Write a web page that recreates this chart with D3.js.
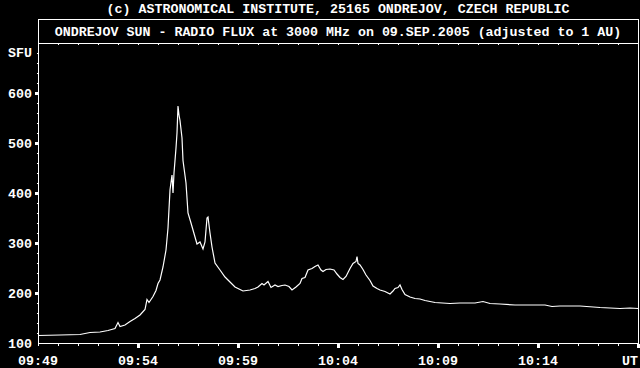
<!DOCTYPE html>
<html>
<head>
<meta charset="utf-8">
<script src="https://cdn.jsdelivr.net/npm/d3@7"></script>
<style>
  body { margin: 0; background: #000; }
  svg { display: block; }
  text { font-family: "Liberation Mono", "DejaVu Sans Mono", monospace; font-weight: bold; font-size: 13.3px; fill: #fff; }
</style>
</head>
<body>
<div id="chart"></div>
<script>
// time (UT) and flux (SFU)
var times = ["09:49:00","09:50:06","09:51:06","09:51:36","09:52:06","09:52:30","09:52:51","09:53:00","09:53:06","09:53:21",
  "09:53:36","09:53:51","09:54:06","09:54:21","09:54:27","09:54:33","09:54:45","09:54:54","09:55:00","09:55:06",
  "09:55:15","09:55:24","09:55:30","09:55:36","09:55:42","09:55:45","09:55:48","09:55:54","09:55:57","09:56:00",
  "09:56:03","09:56:06","09:56:12","09:56:15","09:56:24","09:56:30","09:56:39","09:56:51","09:56:57","09:57:06",
  "09:57:15","09:57:21","09:57:27","09:57:30","09:57:36","09:57:42","09:57:51","09:58:06","09:58:21","09:58:36",
  "09:58:51","09:59:06","09:59:15","09:59:36","09:59:51","10:00:00","10:00:12","10:00:18","10:00:30","10:00:39",
  "10:00:51","10:01:00","10:01:12","10:01:21","10:01:33","10:01:42","10:01:54","10:02:06","10:02:12","10:02:21",
  "10:02:30","10:02:42","10:02:51","10:03:00","10:03:09","10:03:15","10:03:24","10:03:36","10:03:48","10:03:57",
  "10:04:06","10:04:15","10:04:24","10:04:36","10:04:45","10:04:54","10:04:57","10:05:00","10:05:06","10:05:15",
  "10:05:24","10:05:36","10:05:45","10:05:57","10:06:06","10:06:21","10:06:36","10:06:45","10:06:51","10:07:00",
  "10:07:06","10:07:12","10:07:21","10:07:36","10:07:51","10:08:06","10:08:21","10:08:51","10:09:36","10:10:06",
  "10:10:51","10:11:15","10:11:36","10:12:06","10:12:51","10:13:36","10:14:21","10:14:42","10:15:06","10:16:06",
  "10:17:06","10:18:06","10:18:36","10:19:00"];
var flux = [115,116,117,121,122,125,129,141,133,136,
  143,149,156,167,187,181,193,205,219,226,
  252,286,330,406,436,400,440,490,520,574,
  556,545,510,465,420,360,340,312,298,302,
  288,302,350,352,320,292,260,246,232,222,
  212,207,204,206,209,212,219,216,223,211,
  216,213,215,216,213,206,212,219,229,231,
  246,249,253,256,246,243,247,248,246,238,
  231,227,233,249,259,263,273,259,256,247,
  236,225,214,209,206,203,198,204,209,211,
  216,207,197,192,189,188,185,181,179,180,
  180,183,179,178,176,176,176,173,174,174,
  171,169,170,169];

var yTicks = [100, 200, 300, 400, 500, 600];
var xTickLabels = ["09:49", "09:54", "09:59", "10:04", "10:09", "10:14"];

var svgWidth = 640, svgHeight = 368;
var plot = { left: 38, right: 638, top: 43, bottom: 343 };

var parse = d3.timeParse("%H:%M:%S");
var data = times.map(function(t, i) { return { t: parse(t), v: flux[i] }; });

var x = d3.scaleTime()
  .domain([parse("09:49:00"), parse("10:19:00")])
  .range([plot.left, plot.right]);
var y = d3.scaleLinear().domain([100, 700]).range([plot.bottom, plot.top]);

var svg = d3.select("#chart").append("svg")
  .attr("width", svgWidth)
  .attr("height", svgHeight);

svg.append("rect").attr("width", svgWidth).attr("height", svgHeight).attr("fill", "#000");

// headings
svg.append("text")
  .attr("x", 338).attr("y", 13)
  .attr("text-anchor", "middle")
  .text("(c) ASTRONOMICAL INSTITUTE, 25165 ONDREJOV, CZECH REPUBLIC");

svg.append("rect")
  .attr("x", plot.left + 0.5).attr("y", 19.5)
  .attr("width", plot.right - plot.left).attr("height", plot.top - 19)
  .attr("fill", "none").attr("stroke", "#fff");

svg.append("text")
  .attr("x", 338).attr("y", 35.5)
  .attr("text-anchor", "middle")
  .text("ONDREJOV SUN - RADIO FLUX at 3000 MHz on 09.SEP.2005 (adjusted to 1 AU)");

// frame
var frame = svg.append("g").attr("stroke", "#fff").attr("shape-rendering", "crispEdges");
frame.append("line").attr("x1", plot.left + 0.5).attr("x2", plot.left + 0.5).attr("y1", plot.top).attr("y2", plot.bottom + 1);
frame.append("line").attr("x1", plot.right + 0.5).attr("x2", plot.right + 0.5).attr("y1", plot.top).attr("y2", plot.bottom + 1);
frame.append("line").attr("x1", plot.left).attr("x2", plot.right + 1).attr("y1", plot.bottom + 0.5).attr("y2", plot.bottom + 0.5);

// minute ticks, top and bottom
var minutes = d3.timeMinute.range(x.domain()[0], d3.timeMinute.offset(x.domain()[1], 1));
frame.selectAll(".tb").data(minutes).enter().append("line")
  .attr("x1", d => Math.round(x(d)) + 0.5).attr("x2", d => Math.round(x(d)) + 0.5)
  .attr("y1", plot.bottom + 1).attr("y2", plot.bottom + 3);
frame.selectAll(".tt").data(minutes).enter().append("line")
  .attr("x1", d => Math.round(x(d)) + 0.5).attr("x2", d => Math.round(x(d)) + 0.5)
  .attr("y1", plot.top + 1).attr("y2", plot.top + 2);

var majors = minutes.filter(function(d, i) { return i % 5 === 0 && i > 0; });
svg.selectAll(".tm").data(majors).enter().append("rect")
  .attr("x", d => Math.round(x(d)) - 1).attr("y", plot.bottom + 1)
  .attr("width", 3).attr("height", 4).attr("fill", "#fff");

// flux ticks
var minorY = d3.range(120, 700, 20);
frame.selectAll(".ym").data(minorY).enter().append("line")
  .attr("x1", plot.left - 1).attr("x2", plot.left)
  .attr("y1", d => Math.round(y(d)) + 0.5).attr("y2", d => Math.round(y(d)) + 0.5);
svg.selectAll(".yM").data(yTicks.slice(1)).enter().append("rect")
  .attr("x", plot.left - 3).attr("y", d => Math.round(y(d)) - 1)
  .attr("width", 3).attr("height", 3).attr("fill", "#fff");

svg.selectAll(".yl").data(yTicks).enter().append("text")
  .attr("x", 32).attr("y", d => y(d) + 4.5)
  .attr("text-anchor", "end")
  .text(d => d);
svg.append("text").attr("x", 32).attr("y", 57).attr("text-anchor", "end").text("SFU");

svg.selectAll(".xl").data(xTickLabels).enter().append("text")
  .attr("x", d => x(parse(d + ":00")))
  .attr("y", 364.5)
  .attr("text-anchor", "middle")
  .text(d => d);
svg.append("text").attr("x", 638).attr("y", 364.5).attr("text-anchor", "end").text("UT");

// flux curve
var line = d3.line().x(d => x(d.t)).y(d => y(d.v));
svg.append("path")
  .datum(data)
  .attr("d", line)
  .attr("fill", "none")
  .attr("stroke", "#fff")
  .attr("stroke-width", 1.2);
</script>
</body>
</html>
